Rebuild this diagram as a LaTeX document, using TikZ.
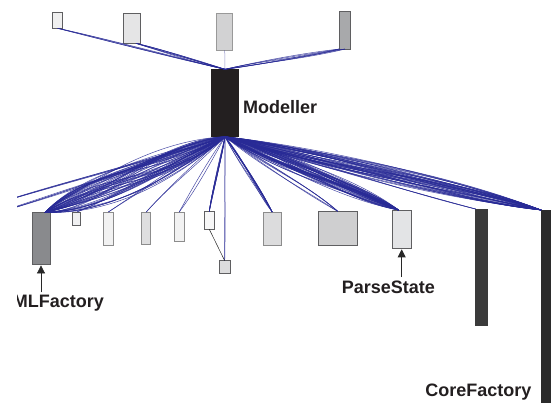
\documentclass[tikz,border=0pt]{standalone}
\usepackage{fontspec}
\setmainfont{Liberation Sans}
\usetikzlibrary{calc,arrows.meta}
\definecolor{edgeblue}{RGB}{40,42,150}
\definecolor{boxline}{RGB}{95,95,97}
\definecolor{labeltext}{RGB}{35,31,32}
\definecolor{arrowgray}{RGB}{40,40,40}
\definecolor{cA}{RGB}{240,240,240}
\definecolor{cB}{RGB}{229,229,230}
\definecolor{cC}{RGB}{210,210,211}
\definecolor{cD}{RGB}{168,169,171}
\definecolor{cMod}{RGB}{35,31,32}
\definecolor{cE}{RGB}{137,138,141}
\definecolor{cF}{RGB}{240,240,241}
\definecolor{cG}{RGB}{242,242,242}
\definecolor{cH}{RGB}{222,222,223}
\definecolor{cJ}{RGB}{247,247,247}
\definecolor{cK}{RGB}{220,220,221}
\definecolor{cM}{RGB}{207,207,208}
\definecolor{cN}{RGB}{227,228,230}
\definecolor{cO}{RGB}{59,59,59}
\definecolor{cP}{RGB}{43,43,43}
\newcommand\linkbundle[5]{%
  \foreach \k in {1,...,#1}{%
    \pgfmathsetmacro\ax{#4*rnd/2}%
    \pgfmathsetmacro\bx{#4*rnd/2}%
    \pgfmathsetmacro\sa{ifthenelse(rnd<0.5,90,-90)}%
    \pgfmathsetmacro\sb{ifthenelse(rnd<0.5,90,-90)}%
    \path ($(#2)!0.35!(#3)$) coordinate (qa) ($(#2)!0.7!(#3)$) coordinate (qb);%
    \draw[linkline,#5] (#2) .. controls ($(qa)!\ax pt!\sa:(#3)$) and ($(qb)!\bx pt!\sb:(#3)$) .. (#3);%
  }}
\begin{document}
\begin{tikzpicture}[x=1pt,y=-1pt,
  nodebox/.style={draw=boxline,line width=0.8pt,inner sep=0pt,outer sep=0pt,rectangle},
  linkline/.style={draw=edgeblue,line width=0.5pt,opacity=0.85},
  lbl/.style={font=\fontsize{18}{20}\selectfont\bfseries,text=labeltext,inner sep=0pt},
  pointer/.style={draw=arrowgray,line width=0.7pt,-{Triangle[length=8pt,width=8pt]},shorten >=1pt}]
\pgfmathsetseed{7}
\useasboundingbox[fill=white] (0,0) rectangle (551,403);
\begin{scope}
\clip (17,0) rectangle (551,403);
% top row
\node[nodebox,fill=cA,minimum width=10pt,minimum height=16pt] (A) at (57.7,20.3) {};
\node[nodebox,fill=cB,minimum width=17.4pt,minimum height=30.3pt] (B) at (132,28.2) {};
\node[nodebox,fill=cC,draw=gray!80,minimum width=16pt,minimum height=36.6pt] (C) at (224.7,32) {};
\node[nodebox,fill=cD,minimum width=11.4pt,minimum height=37.7pt] (D) at (345,30.2) {};
\node[nodebox,fill=cMod,draw=cMod,minimum width=27pt,minimum height=67.4pt] (Mod) at (225,103) {};
% bottom row
\node[nodebox,fill=cE,minimum width=18pt,minimum height=52pt] (E) at (41,238.4) {};
\node[nodebox,fill=cF,minimum width=8pt,minimum height=13.5pt] (F) at (76.7,218.8) {};
\node[nodebox,fill=cG,draw=gray!90,minimum width=10pt,minimum height=33pt] (G) at (108.3,228.5) {};
\node[nodebox,fill=cH,draw=gray!90,minimum width=9pt,minimum height=32.3pt] (H) at (146.2,228.2) {};
\node[nodebox,fill=cG,draw=gray!90,minimum width=9.7pt,minimum height=29pt] (I) at (179.2,226.5) {};
\node[nodebox,fill=cJ,minimum width=10pt,minimum height=18pt] (J) at (209.3,220.3) {};
\node[nodebox,fill=cK,minimum width=10.7pt,minimum height=12.6pt] (K) at (224.7,267) {};
\node[nodebox,fill=cK,draw=gray!90,minimum width=17.7pt,minimum height=33pt] (L) at (272.2,228.5) {};
\node[nodebox,fill=cM,minimum width=39pt,minimum height=33.7pt] (M) at (337.8,228.2) {};
\node[nodebox,fill=cN,minimum width=19.3pt,minimum height=38.3pt] (N) at (401.7,229.2) {};
\node[nodebox,fill=cO,draw=cO,minimum width=11.6pt,minimum height=116.7pt] (O) at (481.5,267.4) {};
\node[nodebox,fill=cP,draw=cP,minimum width=12pt,minimum height=195pt] (P) at (547,307.5) {};
% connector end points
\coordinate (Bend) at ($(B.south)+(4,0)$);
\coordinate (offA) at (0,202.4);
\coordinate (offB) at (0,212);
\coordinate (Eend) at ($(E.north)+(4,0)$);
\coordinate (Nend) at ($(N.north)+(-3,0)$);
% top connectors
\linkbundle{4}{Mod.north}{A.south}{3}{}
\linkbundle{6}{Mod.north}{Bend}{5}{}
\draw[linkline,opacity=0.5] (Mod.north) -- (C.south);
\linkbundle{4}{Mod.north}{D.south west}{6}{}
\linkbundle{3}{Mod.north}{D.south}{6}{}
% bottom connectors
\linkbundle{4}{Mod.south}{offA}{6}{}
\linkbundle{4}{Mod.south}{offB}{6}{}
\linkbundle{55}{Mod.south}{Eend}{55}{}
\linkbundle{2}{Mod.south}{F.north}{10}{}
\linkbundle{2}{Mod.south}{G.north}{6}{}
\linkbundle{2}{Mod.south}{H.north}{6}{}
\linkbundle{2}{Mod.south}{I.north}{6}{}
\linkbundle{8}{Mod.south}{J.north}{4}{}
\linkbundle{2}{Mod.south}{K.north}{2}{}
\linkbundle{10}{Mod.south}{L.north}{10}{}
\linkbundle{5}{Mod.south}{M.north}{12}{}
\linkbundle{45}{Mod.south}{Nend}{28}{}
\linkbundle{3}{Mod.south}{O.north west}{8}{}
\linkbundle{45}{Mod.south}{P.north west}{28}{}
\draw[draw=arrowgray,line width=0.5pt] (J.south) -- (K.north);
% labels
\node[lbl,anchor=base west] (modlbl) at (243,114) {Modeller};
\node[lbl,anchor=base east] (xmllbl) at (104,307) {XMLFactory};
\node[lbl,anchor=base] (pslbl) at (388.4,293) {ParseState};
\node[lbl,anchor=base east] (cflbl) at (531.7,396) {CoreFactory};
\draw[pointer] ([yshift=2pt]xmllbl.north -| E.south) -- (E.south);
\draw[pointer] ([yshift=3pt]pslbl.north -| N.south) -- (N.south);
\end{scope}
\end{tikzpicture}
\end{document}
